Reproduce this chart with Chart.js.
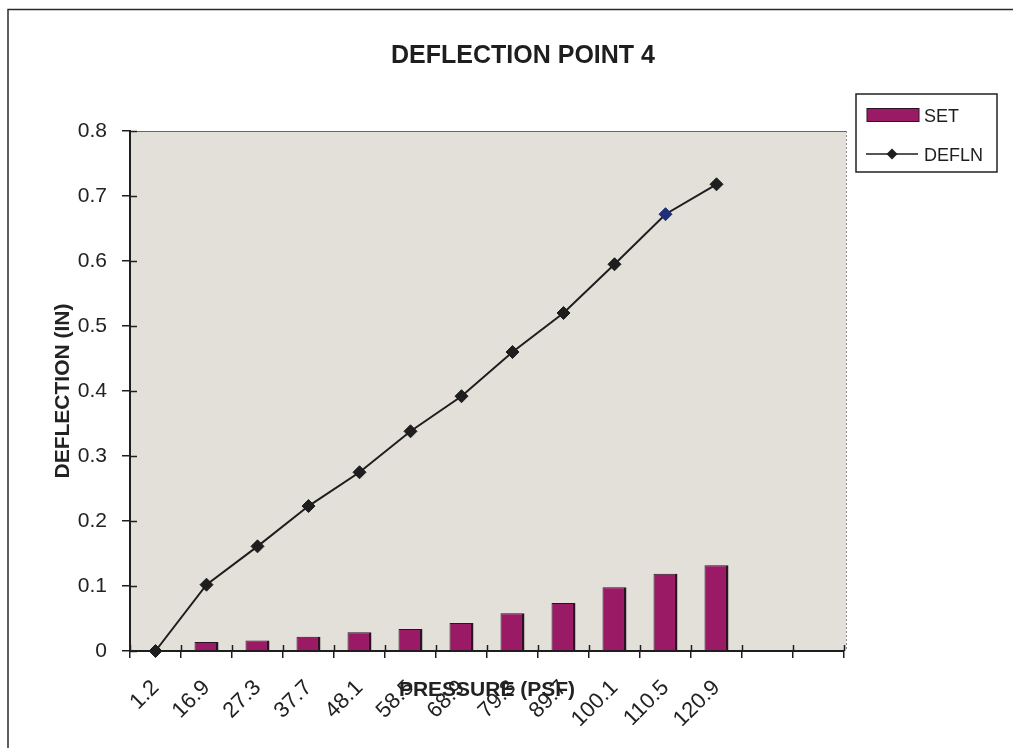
<!DOCTYPE html>
<html><head><meta charset="utf-8">
<script src="https://cdn.jsdelivr.net/npm/chart.js@4.4.1/dist/chart.umd.min.js"></script>
<style>html,body{margin:0;padding:0;background:#fff;overflow:hidden}canvas{display:block}</style>
</head><body>
<canvas id="c" width="1013" height="748"></canvas>
<script>
const chartTitle = 'DEFLECTION POINT 4';
const xAxisTitle = 'PRESSURE (PSF)';
const yAxisTitle = 'DEFLECTION (IN)';
const categories = ['1.2','16.9','27.3','37.7','48.1','58.5','68.9','79.3','89.7','100.1','110.5','120.9','',''];
const setValues = [0, 0.014, 0.016, 0.022, 0.029, 0.034, 0.043, 0.058, 0.074, 0.098, 0.119, 0.132, null, null];
const deflnValues = [0, 0.102, 0.161, 0.223, 0.275, 0.338, 0.392, 0.460, 0.520, 0.595, 0.672, 0.718, null, null];
const yTickLabels = ['0','0.1','0.2','0.3','0.4','0.5','0.6','0.7','0.8'];

const FONT = "'Liberation Sans', Arial, Helvetica, sans-serif";
const BAR_COLOR = '#9a1a66';
const BAR_EDGE = '#2a1424';
const INK = '#1e1e1e';

const decor = {
  id: 'decor',
  beforeDraw(chart) {
    const {ctx, chartArea: a} = chart;
    ctx.save();
    ctx.fillStyle = '#fff';
    ctx.fillRect(0, 0, chart.width, chart.height);
    ctx.strokeStyle = '#2b2b2b';
    ctx.lineWidth = 1.5;
    ctx.beginPath();
    ctx.moveTo(8, chart.height); ctx.lineTo(8, 9.5); ctx.lineTo(chart.width, 9.5);
    ctx.stroke();
    ctx.fillStyle = '#e3e0d9';
    ctx.fillRect(a.left, a.top, a.right - a.left + 2, a.bottom - a.top);
    ctx.strokeStyle = '#666';
    ctx.lineWidth = 1;
    ctx.beginPath(); ctx.moveTo(a.left, a.top + 0.5); ctx.lineTo(a.right + 2, a.top + 0.5); ctx.stroke();
    ctx.setLineDash([2, 2]);
    ctx.strokeStyle = '#8a8a8a';
    ctx.beginPath(); ctx.moveTo(a.right + 2.5, a.top); ctx.lineTo(a.right + 2.5, a.bottom); ctx.stroke();
    ctx.restore();
  },
  afterDraw(chart) {
    const {ctx, chartArea: a, scales} = chart;
    ctx.save();
    // title
    ctx.fillStyle = INK;
    ctx.font = 'bold 25px ' + FONT;
    ctx.textAlign = 'center';
    ctx.textBaseline = 'alphabetic';
    ctx.fillText(chartTitle, 523, 63);
    // inner halves of crossing tick marks
    ctx.strokeStyle = INK;
    ctx.lineWidth = 1.5;
    const y = scales.y;
    y.ticks.forEach((t, i) => {
      const py = Math.round(y.getPixelForTick(i)) + 0.5;
      ctx.beginPath(); ctx.moveTo(a.left, py); ctx.lineTo(a.left + 7, py); ctx.stroke();
    });
    const x = scales.x;
    const half = (x.getPixelForValue(1) - x.getPixelForValue(0)) / 2;
    for (let i = 0; i <= categories.length; i++) {
      const px = Math.round(x.getPixelForValue(i) - half) + 0.5;
      ctx.beginPath(); ctx.moveTo(px, a.bottom); ctx.lineTo(px, a.bottom - 6); ctx.stroke();
    }
    // legend
    const lx = 856, ly = 94, lw = 141, lh = 78;
    ctx.fillStyle = '#fff';
    ctx.fillRect(lx, ly, lw, lh);
    ctx.strokeStyle = '#222';
    ctx.lineWidth = 1.5;
    ctx.strokeRect(lx, ly, lw, lh);
    ctx.font = '18px ' + FONT;
    ctx.textAlign = 'left';
    chart.data.datasets.forEach((ds, i) => {
      const cy = 115 + i * 39;
      if (ds.type === 'bar') {
        ctx.fillStyle = ds.backgroundColor;
        ctx.fillRect(867, cy - 6.5, 52, 13);
        ctx.strokeStyle = BAR_EDGE;
        ctx.lineWidth = 1;
        ctx.strokeRect(867, cy - 6.5, 52, 13);
      } else {
        ctx.strokeStyle = INK;
        ctx.lineWidth = 1.5;
        ctx.beginPath(); ctx.moveTo(866, cy); ctx.lineTo(918, cy); ctx.stroke();
        ctx.fillStyle = INK;
        ctx.beginPath();
        ctx.moveTo(892, cy - 5.5); ctx.lineTo(897.5, cy); ctx.lineTo(892, cy + 5.5); ctx.lineTo(886.5, cy);
        ctx.closePath(); ctx.fill();
      }
      ctx.fillStyle = INK;
      ctx.fillText(ds.label, 924, cy + 6.5);
    });
    ctx.restore();
  }
};

new Chart(document.getElementById('c'), {
  type: 'bar',
  data: {
    labels: categories,
    datasets: [
      {
        type: 'bar', label: 'SET', data: setValues,
        backgroundColor: BAR_COLOR, borderColor: BAR_EDGE,
        borderWidth: {top: 1, left: 1, right: 2.5, bottom: 0},
        borderSkipped: 'bottom',
        barPercentage: 0.47, categoryPercentage: 1, order: 1
      },
      {
        type: 'line', label: 'DEFLN', data: deflnValues,
        borderColor: INK, borderWidth: 2, tension: 0,
        pointStyle: 'rectRot', pointRadius: 6.5, pointHoverRadius: 6.5,
        pointBackgroundColor: c => c.dataIndex === 10 ? '#1f2f7a' : INK,
        pointBorderColor: c => c.dataIndex === 10 ? '#1f2f7a' : INK,
        pointBorderWidth: 1,
        clip: false, order: 0, spanGaps: false
      }
    ]
  },
  options: {
    responsive: false, animation: false, devicePixelRatio: 1,
    layout: {padding: {left: 0, right: 169, top: 131, bottom: 0}},
    plugins: {legend: {display: false}, title: {display: false}, tooltip: {enabled: false}},
    scales: {
      x: {
        type: 'category', offset: true,
        grid: {offset: true, drawOnChartArea: false, drawTicks: true, tickLength: 7, color: INK, lineWidth: 1.5},
        border: {display: true, color: INK, width: 2},
        ticks: {font: {family: FONT, size: 22}, color: '#222', minRotation: 45, maxRotation: 45, autoSkip: false, padding: 17},
        title: {display: true, text: xAxisTitle, font: {family: FONT, size: 21, weight: 'bold'}, color: '#222', padding: {top: -45, bottom: 45.4}},
        afterFit(s) { s.height = 97; }
      },
      y: {
        min: 0, max: 0.8,
        ticks: {stepSize: 0.1, callback: (v, i) => yTickLabels[i], font: {family: FONT, size: 21}, color: '#222', padding: 15},
        grid: {drawOnChartArea: false, drawTicks: true, tickLength: 8, color: INK, lineWidth: 1.5},
        border: {display: true, color: INK, width: 2},
        title: {display: true, text: yAxisTitle, font: {family: FONT, size: 21, weight: 'bold'}, color: '#222', padding: {top: 50.4, bottom: 0}},
        afterFit(s) { s.width = 130; }
      }
    }
  },
  plugins: [decor]
});
</script>
</body></html>
